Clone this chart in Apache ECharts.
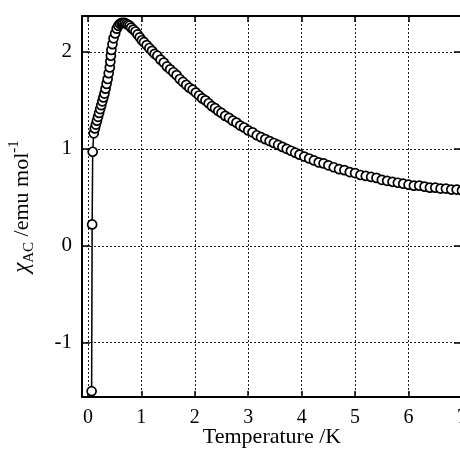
<!DOCTYPE html>
<html><head><meta charset="utf-8">
<script src="https://cdn.jsdelivr.net/npm/echarts@6/dist/echarts.min.js"></script>
<style>html,body{margin:0;padding:0;background:#fff}#c{width:460px;height:454px}</style>
</head><body><div id="c"></div>
<script>
var xTicks = [0,1,2,3,4,5,6,7];
var yTicks = [-1,0,1,2];
var temperature = [0.07,0.08,0.09,0.11,0.13,0.15,0.17,0.19,0.21,0.23,0.25,0.27,0.29,0.31,0.33,0.35,0.37,0.39,0.41,0.42,0.43,0.44,0.46,0.48,0.51,0.54,0.57,0.60,0.63,0.66,0.69,0.72,0.75,0.78,0.81,0.85,0.89,0.93,0.97,1.01,1.05,1.10,1.15,1.20,1.25,1.30,1.36,1.42,1.48,1.54,1.60,1.66,1.72,1.78,1.84,1.90,1.96,2.02,2.08,2.14,2.20,2.26,2.32,2.38,2.44,2.50,2.57,2.64,2.71,2.78,2.85,2.92,3.00,3.08,3.16,3.24,3.32,3.40,3.48,3.56,3.64,3.72,3.80,3.88,3.96,4.05,4.14,4.23,4.32,4.41,4.50,4.60,4.70,4.80,4.90,5.00,5.10,5.20,5.30,5.40,5.50,5.60,5.70,5.80,5.90,6.00,6.10,6.20,6.30,6.40,6.50,6.60,6.70,6.80,6.90,7.00];
var chiAC = [-1.50,0.22,0.97,1.16,1.21,1.25,1.29,1.33,1.37,1.41,1.45,1.49,1.53,1.57,1.62,1.67,1.72,1.78,1.84,1.90,1.96,2.02,2.08,2.14,2.19,2.24,2.27,2.29,2.30,2.30,2.30,2.29,2.28,2.27,2.25,2.23,2.21,2.18,2.15,2.12,2.10,2.07,2.04,2.01,1.98,1.96,1.92,1.89,1.85,1.82,1.79,1.76,1.72,1.69,1.66,1.63,1.61,1.58,1.55,1.52,1.50,1.47,1.44,1.42,1.39,1.37,1.34,1.32,1.29,1.27,1.24,1.22,1.19,1.17,1.14,1.12,1.10,1.08,1.06,1.04,1.02,1.00,0.98,0.96,0.94,0.92,0.90,0.88,0.86,0.85,0.83,0.81,0.79,0.78,0.76,0.75,0.73,0.72,0.71,0.70,0.68,0.67,0.66,0.65,0.64,0.63,0.62,0.62,0.61,0.60,0.60,0.59,0.59,0.58,0.58,0.57];

var data = temperature.map(function(t,i){return [t, chiAC[i]];});
var font = 'Liberation Serif';
var chart = echarts.init(document.getElementById('c'), null, {renderer:'canvas'});
var xCommon = {type:'value', min:-0.11, max:7};
var yCommon = {type:'value', min:-1.56, max:2.37};
chart.setOption({
  animation:false,
  grid:{left:82, top:16, width:380, height:381, containLabel:false, outerBoundsMode:'none'},
  xAxis:[
    Object.assign({}, xCommon, {
      position:'bottom',
      name:'Temperature /K', nameLocation:'middle', nameGap:29, nameMoveOverlap:false,
      nameTextStyle:{fontFamily:font, fontSize:22, color:'#000'},
      axisLine:{show:true, onZero:false, lineStyle:{color:'#000', width:2}},
      axisTick:{show:true, inside:true, length:6, customValues:xTicks, lineStyle:{color:'#000', width:1.5}},
      axisLabel:{customValues:xTicks, fontFamily:font, fontSize:20, color:'#000', margin:11},
      splitLine:{show:true, lineStyle:{color:'#222', width:1, type:[2,2]}}
    }),
    Object.assign({}, xCommon, {
      position:'top',
      axisLine:{show:true, onZero:false, lineStyle:{color:'#000', width:2}},
      axisTick:{show:true, inside:true, length:6, customValues:xTicks, lineStyle:{color:'#000', width:1.5}},
      axisLabel:{show:false},
      splitLine:{show:false}
    })
  ],
  yAxis:[
    Object.assign({}, yCommon, {
      position:'left',
      name:'{chi|χ}{sub|AC}{n| /emu mol}{sup|-1}', nameLocation:'middle', nameGap:45, nameMoveOverlap:false,
      nameTextStyle:{fontFamily:font, fontSize:22, color:'#000',
        rich:{
          chi:{fontFamily:font, fontSize:23, fontStyle:'italic', lineHeight:30, verticalAlign:'middle'},
          sub:{fontFamily:font, fontSize:15, lineHeight:30, verticalAlign:'bottom'},
          n:{fontFamily:font, fontSize:22, lineHeight:30, verticalAlign:'middle'},
          sup:{fontFamily:font, fontSize:15, lineHeight:30, verticalAlign:'top'}
        }},
      axisLine:{show:true, onZero:false, lineStyle:{color:'#000', width:2}},
      axisTick:{show:true, inside:true, length:8, customValues:yTicks, lineStyle:{color:'#000', width:1.5}},
      axisLabel:{customValues:yTicks, fontFamily:font, fontSize:21, color:'#000', margin:10},
      splitLine:{show:true, lineStyle:{color:'#222', width:1, type:[2,2]}}
    }),
    Object.assign({}, yCommon, {
      position:'right',
      axisLine:{show:true, onZero:false, lineStyle:{color:'#000', width:2}},
      axisTick:{show:true, inside:true, length:8, customValues:yTicks, lineStyle:{color:'#000', width:1.5}},
      axisLabel:{show:false},
      splitLine:{show:false}
    })
  ],
  series:[{
    type:'line',
    data:data,
    xAxisIndex:0, yAxisIndex:0,
    symbol:'circle', symbolSize:9, showAllSymbol:true,
    lineStyle:{color:'#000', width:1.5},
    itemStyle:{color:'#fff', borderColor:'#000', borderWidth:1.7},
    clip:false
  }]
});
</script></body></html>
